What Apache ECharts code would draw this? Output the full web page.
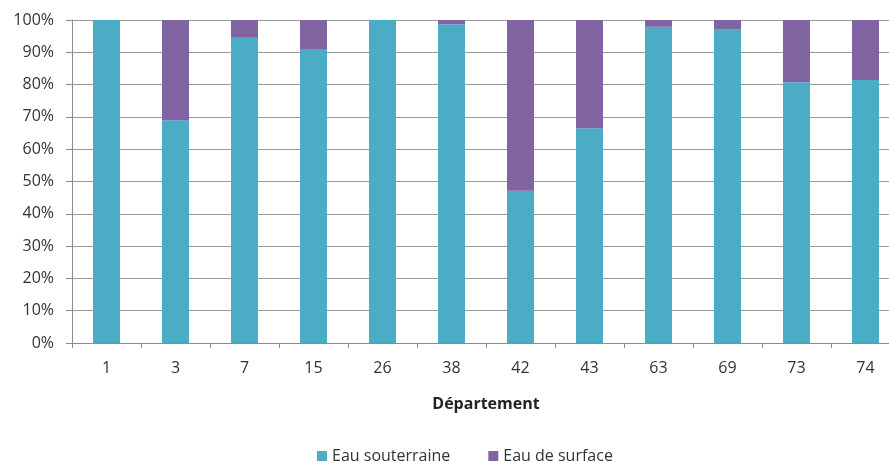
<!DOCTYPE html>
<html>
<head>
<meta charset="utf-8">
<script src="https://cdn.jsdelivr.net/npm/echarts@6/dist/echarts.min.js"></script>
<style>
html, body { margin: 0; padding: 0; background: #fff; overflow: hidden; }
#main { width: 900px; height: 462px; }
</style>
</head>
<body>
<div id="main"></div>
<script>
// données
var departements = ['1', '3', '7', '15', '26', '38', '42', '43', '63', '69', '73', '74'];
var eauSouterraine = [100, 69, 94.5, 91, 100, 98.7, 47.1, 66.5, 97.9, 97.1, 80.7, 81.4];
var eauSurface = [0, 31, 5.5, 9, 0, 1.3, 52.9, 33.5, 2.1, 2.9, 19.3, 18.6];

var myChart = echarts.init(document.getElementById('main'));

var option = {
	animation: false,
	textStyle: { fontFamily: 'Open Sans' },
	color: ['#4bacc6', '#8064a2'],
	grid: {
		left: 72,
		right: 0,
		top: 20,
		bottom: 119
	},
	legend: {
		data: ['Eau souterraine', 'Eau de surface'],
		left: 312,
		top: 443,
		itemWidth: 10,
		itemHeight: 10,
		itemGap: 38,
		icon: 'rect',
		textStyle: { fontSize: 16, color: '#333', fontFamily: 'Open Sans' }
	},
	xAxis: {
		type: 'category',
		data: departements,
		name: 'Département',
		nameLocation: 'middle',
		nameGap: 53,
		nameTextStyle: { fontSize: 16, fontWeight: 'bold', color: '#222' },
		axisLine: { lineStyle: { color: '#8c8c8c' } },
		axisTick: { show: true, alignWithLabel: false, length: 5, lineStyle: { color: '#8c8c8c' } },
		axisLabel: { fontSize: 16, color: '#333', margin: 17 }
	},
	yAxis: {
		type: 'value',
		min: 0,
		max: 100,
		interval: 10,
		axisLine: { show: true, lineStyle: { color: '#8c8c8c' } },
		axisTick: { show: true, length: 6, lineStyle: { color: '#8c8c8c' } },
		axisLabel: { formatter: '{value}%', fontSize: 16, color: '#333', margin: 18 },
		splitLine: { lineStyle: { color: '#9a9a9a' } }
	},
	series: [{
		name: 'Eau souterraine',
		type: 'bar',
		stack: 'total',
		barWidth: 27,
		data: eauSouterraine
	}, {
		name: 'Eau de surface',
		type: 'bar',
		stack: 'total',
		barWidth: 27,
		data: eauSurface
	}]
};

myChart.setOption(option);
</script>
</body>
</html>
